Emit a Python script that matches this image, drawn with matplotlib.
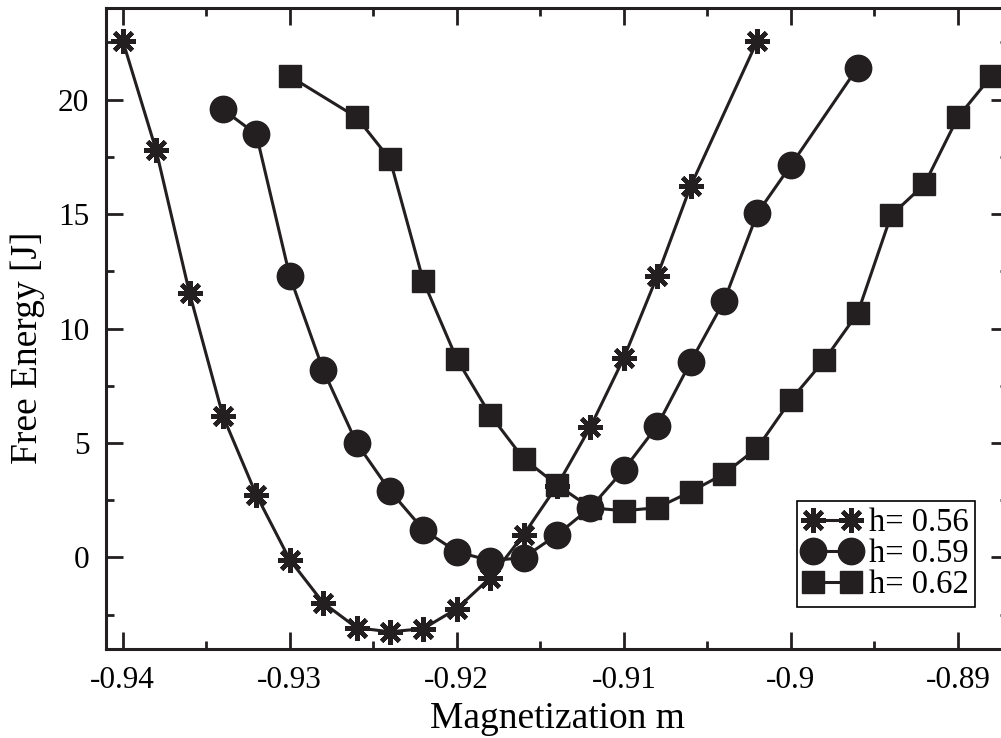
import numpy as np
import matplotlib
matplotlib.use("Agg")
import matplotlib.pyplot as plt

plt.rcParams['font.family'] = ['Liberation Serif', 'DejaVu Serif']

# h = 0.56
m_56 = [-0.940, -0.938, -0.936, -0.934, -0.932, -0.930, -0.928, -0.926, -0.924, -0.922,
        -0.920, -0.918, -0.916, -0.914, -0.912, -0.910, -0.908, -0.906, -0.902]
F_56 = [22.58, 17.79, 11.55, 6.18, 2.73, -0.10, -1.98, -3.07, -3.25, -3.11,
        -2.24, -0.89, 0.99, 3.13, 5.70, 8.71, 12.29, 16.22, 22.58]

# h = 0.59
m_59 = [-0.934, -0.932, -0.930, -0.928, -0.926, -0.924, -0.922, -0.920, -0.918, -0.916,
        -0.914, -0.912, -0.910, -0.908, -0.906, -0.904, -0.902, -0.900, -0.896]
F_59 = [19.57, 18.48, 12.29, 8.19, 5.00, 2.91, 1.21, 0.25, -0.14, -0.01,
        0.99, 2.17, 3.83, 5.75, 8.54, 11.20, 15.04, 17.13, 21.40]

# h = 0.62
m_62 = [-0.930, -0.926, -0.924, -0.922, -0.920, -0.918, -0.916, -0.914, -0.912, -0.910,
        -0.908, -0.906, -0.904, -0.902, -0.900, -0.898, -0.896, -0.894, -0.892, -0.890, -0.888]
F_62 = [21.02, 19.23, 17.39, 12.07, 8.67, 6.23, 4.31, 3.17, 2.17, 2.04,
        2.17, 2.87, 3.65, 4.79, 6.88, 8.62, 10.67, 14.94, 16.30, 19.23, 21.02]

labels = ["h= 0.56", "h= 0.59", "h= 0.62"]

fig = plt.figure(figsize=(10.01, 7.38), dpi=100)
ax = fig.add_axes([106/1001, 89/738, 902/1001, 641/738])

col = "#231f20"
ax.plot(m_56, F_56, color=col, lw=2.2, marker=(8, 2, 0), ms=18, mew=3.2, label=labels[0])
ax.plot(m_59, F_59, color=col, lw=2.2, marker="o", ms=19, label=labels[1])
ax.plot(m_62, F_62, color=col, lw=2.2, marker="s", ms=16.5, label=labels[2])

ax.set_xlim(-0.941, -0.887)
ax.set_ylim(-4, 24)
ax.set_xticks([-0.94, -0.93, -0.92, -0.91, -0.9, -0.89])
ax.set_xticklabels(["-0.94", "-0.93", "-0.92", "-0.91", "-0.9", "-0.89"])
ax.set_yticks([0, 5, 10, 15, 20])
ax.set_xticks(np.arange(-0.94, -0.886, 0.005), minor=True)
ax.set_yticks(np.arange(-2.5, 24, 2.5), minor=True)

ax.tick_params(which="both", direction="in", top=True, right=True, width=2, color=col,
               labelsize=22.5, pad=12)
ax.tick_params(which="major", length=12)
ax.tick_params(which="minor", length=6)
for s in ax.spines.values():
    s.set_linewidth(2.2)
    s.set_color(col)

ax.set_xlabel("Magnetization m", fontsize=27, labelpad=5)
ax.set_ylabel("Free Energy [J]", fontsize=27)
ax.yaxis.set_label_coords(-0.068, 0.47)

leg = ax.legend(loc="lower right", bbox_to_anchor=(0.9634, 0.0655), fontsize=23.5,
                fancybox=False, edgecolor="black", framealpha=1, numpoints=2,
                handlelength=1.75, handletextpad=0.25, labelspacing=0.02,
                borderpad=0.2, borderaxespad=0)
leg.get_frame().set_linewidth(1.2)

fig.savefig("out.png", dpi=100)
